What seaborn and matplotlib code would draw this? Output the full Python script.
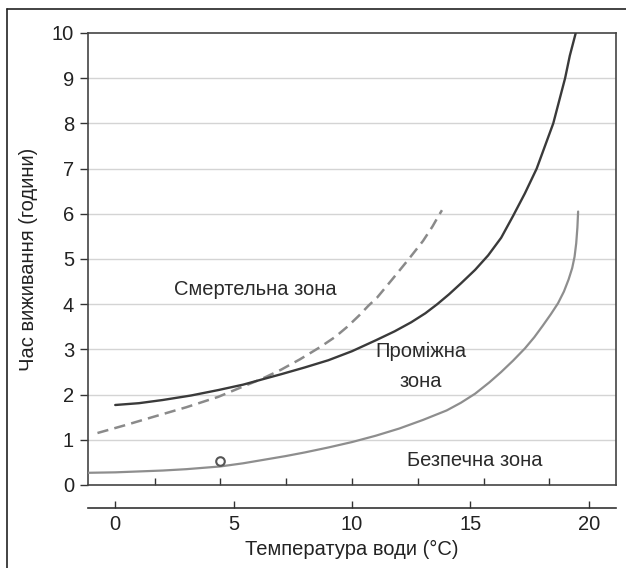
import matplotlib
import matplotlib.pyplot as plt
import pandas as pd
import seaborn as sns
from matplotlib.lines import Line2D

matplotlib.use("Agg")

# curve data (water temp degC -> survival time, hours)
mid_x = [0, 1, 2, 3.2, 4.35, 5.4, 6.3, 7, 8, 9, 10, 11, 11.8, 12.5, 13.1, 13.6, 14.1,
         14.6, 15.2, 15.75, 16.3, 16.8, 17.3, 17.8, 18.15, 18.5, 18.75, 19.0, 19.2, 19.45]
mid_y = [1.77, 1.81, 1.88, 1.98, 2.1, 2.22, 2.35, 2.45, 2.6, 2.76, 2.96, 3.2, 3.4, 3.6,
         3.8, 4.0, 4.22, 4.46, 4.76, 5.08, 5.47, 5.95, 6.45, 7.0, 7.5, 8.0, 8.5, 9.0, 9.5, 10.0]

dash_x = [-0.75, 0.4, 1.56, 3.0, 4.35, 5.36, 6.2, 7, 7.8, 8.65, 9.3, 9.8, 10.3, 10.7,
          11.05, 11.7, 12.4, 13.0, 13.4, 13.65, 13.8]
dash_y = [1.15, 1.32, 1.5, 1.72, 1.95, 2.17, 2.35, 2.55, 2.78, 3.05, 3.28, 3.5, 3.75, 3.97,
          4.14, 4.55, 5.0, 5.4, 5.72, 5.95, 6.08]

safe_x = [-1.15, 0, 1, 2, 3, 4.43, 5.4, 6.3, 7.2, 8, 9, 10, 11, 12, 13, 14, 14.6, 15.2,
          15.8, 16.3, 16.8, 17.3, 17.7, 18.05, 18.4, 18.7, 18.95, 19.15, 19.3, 19.4,
          19.47, 19.52, 19.55]
safe_y = [0.27, 0.28, 0.3, 0.32, 0.35, 0.41, 0.48, 0.56, 0.64, 0.72, 0.83, 0.95, 1.09,
          1.25, 1.44, 1.65, 1.82, 2.02, 2.27, 2.5, 2.75, 3.02, 3.27, 3.52, 3.78, 4.02,
          4.28, 4.55, 4.8, 5.05, 5.35, 5.7, 6.05]

marker_x = [4.43]
marker_y = [0.53]

c_ticks = [0, 5, 10, 15, 20]
f_ticks = [35, 40, 45, 50, 55, 60, 65]
y_ticks = list(range(0, 11))

zones = ["Смертельна зона", "Проміжна\nзона", "Безпечна зона"]
zone_x = [5.9, 12.9, 15.2]
zone_y = [4.33, 2.63, 0.55]

FS = 14.5

sns.set_theme(style="white")
plt.rcParams["font.family"] = ["Liberation Sans", "DejaVu Sans"]

fig = plt.figure(figsize=(6.26, 5.68), dpi=100)
ax = fig.add_axes([88 / 626, 1 - 485 / 568, (616 - 88) / 626, (485 - 33) / 568])

ax.set_xlim(-1.15, 21.15)
ax.set_ylim(0, 10)

for yv in y_ticks[1:-1]:
    ax.axhline(yv, color="#d4d4d4", lw=1.0, zorder=0)

mid = pd.DataFrame({"t": mid_x, "h": mid_y})
dash = pd.DataFrame({"t": dash_x, "h": dash_y})
safe = pd.DataFrame({"t": safe_x, "h": safe_y})

sns.lineplot(data=safe, x="t", y="h", ax=ax, sort=False, estimator=None,
             color="#8e8e8e", linewidth=1.6, zorder=3)
sns.lineplot(data=dash, x="t", y="h", ax=ax, sort=False, estimator=None,
             color="#8a8a8a", linewidth=1.8, zorder=3)
ax.lines[-1].set_dashes([4.5, 2.5])
sns.lineplot(data=mid, x="t", y="h", ax=ax, sort=False, estimator=None,
             color="#3a3a3a", linewidth=1.7, zorder=4)
sns.scatterplot(x=marker_x, y=marker_y, ax=ax, s=38, facecolor="white",
                edgecolor="#555555", linewidth=1.5, zorder=5)

for label, zx, zy in zip(zones, zone_x, zone_y):
    ax.text(zx, zy, label, ha="center", va="center", fontsize=FS,
            color="#2a2a2a", linespacing=1.75)

# fahrenheit ticks on the inner axis (unlabelled)
ax.set_xticks([(f - 32) * 5 / 9 for f in f_ticks])
ax.set_xticklabels([])
ax.tick_params(axis="x", direction="in", length=5, width=1, color="#333333")
ax.set_yticks(y_ticks)
ax.tick_params(axis="y", direction="out", length=6, width=1, color="#333333",
               labelsize=FS, labelcolor="#222222", pad=4)
ax.yaxis.set_ticks_position("left")
ax.xaxis.set_ticks_position("bottom")

for side in ["left", "bottom", "right", "top"]:
    ax.spines[side].set_color("#444444")
    ax.spines[side].set_linewidth(1.2)

ax.set_xlabel("")
ax.set_ylabel("Час виживання (години)", fontsize=FS, color="#222222", labelpad=10)

# celsius scale below
sec = ax.secondary_xaxis(-(508 - 485) / 452)
sec.set_xticks(c_ticks)
sec.tick_params(axis="x", direction="in", length=5, width=1, color="#333333",
                labelsize=FS, labelcolor="#222222", pad=5)
sec.spines["bottom"].set_color("#333333")
sec.spines["bottom"].set_linewidth(1.2)
sec.set_xlabel("Температура води (°C)", fontsize=FS, color="#222222", labelpad=4)

# outer frame (left and top edges)
fig.add_artist(Line2D([7 / 626, 7 / 626], [0, 1 - 9 / 568], color="#222222", lw=1.2))
fig.add_artist(Line2D([7 / 626, 1], [1 - 9 / 568, 1 - 9 / 568], color="#222222", lw=1.2))

fig.savefig("out.png", dpi=100)
